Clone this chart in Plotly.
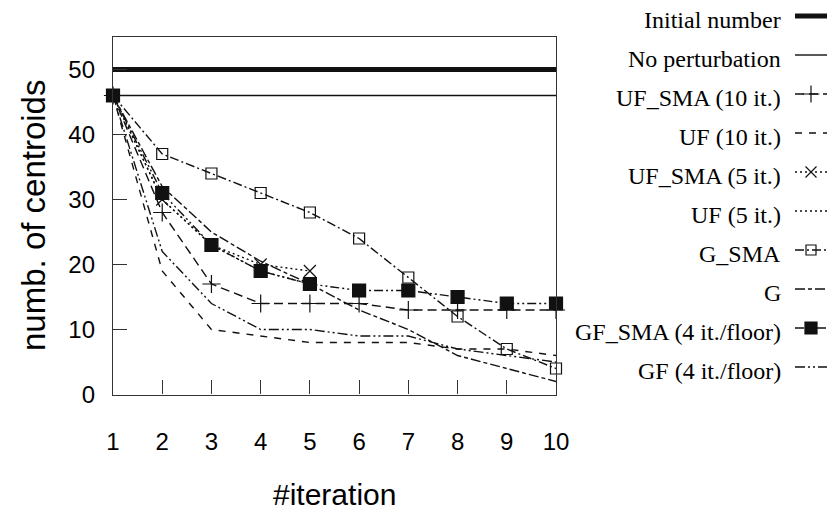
import plotly.graph_objects as go

# ---- data -------------------------------------------------------------
iterations = [1, 2, 3, 4, 5, 6, 7, 8, 9, 10]
x_tick_values = [1, 2, 3, 4, 5, 6, 7, 8, 9, 10]
y_tick_values = [0, 10, 20, 30, 40, 50]

initial_number = 50
no_perturbation = 46

uf_sma_10 = [46, 28, 17, 14, 14, 14, 13, 13, 13, 13]
uf_10 = [46, 19, 10, 9, 8, 8, 8, 7, 7, 6]
uf_sma_5 = [46, 30, 23, 20, 19]
uf_5 = [46, 30, 23, 19, 17]
g_sma = [46, 37, 34, 31, 28, 24, 18, 12, 7, 4]
g = [46, 32, 25, 20.5, 17, 13, 10, 6, 4, 2]
gf_sma = [46, 31, 23, 19, 17, 16, 16, 15, 14, 14]
gf = [46, 22, 14, 10, 10, 9, 9, 7, 6, 5]

series_names = [
    "Initial number", "No perturbation", "UF_SMA (10 it.)", "UF (10 it.)",
    "UF_SMA (5 it.)", "UF (5 it.)", "G_SMA", "G",
    "GF_SMA (4 it./floor)", "GF (4 it./floor)",
]

# ---- styles -----------------------------------------------------------
W, H = 834, 512
INK = "#111111"
LW = 1.4

styles = {
    "Initial number": dict(dash="solid", width=5, symbol=None, size=0),
    "No perturbation": dict(dash="solid", width=1.4, symbol=None, size=0),
    "UF_SMA (10 it.)": dict(dash="9px,5px", width=LW, symbol="cross-thin-open", size=13),
    "UF (10 it.)": dict(dash="7px,7px", width=LW, symbol=None, size=0),
    "UF_SMA (5 it.)": dict(dash="2px,3px", width=LW, symbol="x-thin-open", size=12),
    "UF (5 it.)": dict(dash="2px,3px", width=LW, symbol=None, size=0),
    "G_SMA": dict(dash="9px,3px,2px,3px", width=LW, symbol="square-open", size=11),
    "G": dict(dash="10px,3px,4px,3px", width=LW, symbol=None, size=0),
    "GF_SMA (4 it./floor)": dict(dash="9px,3px,2px,3px,2px,3px", width=LW, symbol="square", size=13),
    "GF (4 it./floor)": dict(dash="10px,3px,2px,3px,2px,3px", width=LW, symbol=None, size=0),
}

series_y = {
    "Initial number": [initial_number] * len(iterations),
    "No perturbation": [no_perturbation] * len(iterations),
    "UF_SMA (10 it.)": uf_sma_10,
    "UF (10 it.)": uf_10,
    "UF_SMA (5 it.)": uf_sma_5,
    "UF (5 it.)": uf_5,
    "G_SMA": g_sma,
    "G": g,
    "GF_SMA (4 it./floor)": gf_sma,
    "GF (4 it./floor)": gf,
}

# plot frame in pixels
PX_L, PX_R, PX_T, PX_B = 113, 556, 37, 394.5


def fx(px):
    return px / W


def fy(py):
    return 1 - py / H


fig = go.Figure()

# main chart: lines first, then marker series on top
draw_order = [
    "Initial number", "No perturbation", "UF (10 it.)", "UF (5 it.)", "G",
    "GF (4 it./floor)", "UF_SMA (5 it.)", "UF_SMA (10 it.)", "G_SMA",
    "GF_SMA (4 it./floor)",
]
for name in draw_order:
    st = styles[name]
    ys = series_y[name]
    xs = iterations[: len(ys)]
    mode = "lines+markers" if st["symbol"] else "lines"
    tr = dict(
        x=xs, y=ys, mode=mode, name=name, showlegend=False,
        line=dict(color=INK, width=st["width"], dash=st["dash"]),
        cliponaxis=False, xaxis="x", yaxis="y",
    )
    if st["symbol"]:
        tr["marker"] = dict(
            symbol=st["symbol"], size=st["size"], color=INK,
            line=dict(color=INK, width=1.2),
        )
    fig.add_trace(go.Scatter(**tr))

# legend: label text on the left, line sample on the right
ROW0, ROW_STEP = 16, 39
y2_top = -ROW0 / ROW_STEP
y2_bot = (H - ROW0) / ROW_STEP
annotations = []
for i, name in enumerate(series_names):
    st = styles[name]
    fig.add_trace(go.Scatter(
        x=[0, 1], y=[i, i], mode="lines", showlegend=False, hoverinfo="skip",
        line=dict(color=INK, width=st["width"], dash=st["dash"]),
        xaxis="x2", yaxis="y2", cliponaxis=False,
    ))
    if st["symbol"]:
        fig.add_trace(go.Scatter(
            x=[0.5], y=[i], mode="markers", showlegend=False, hoverinfo="skip",
            marker=dict(symbol=st["symbol"], size=st["size"] - 1, color=INK,
                        line=dict(color=INK, width=1.2)),
            xaxis="x2", yaxis="y2", cliponaxis=False,
        ))
    annotations.append(dict(
        x=fx(783), y=i, xref="paper", yref="y2", text=name, showarrow=False,
        xanchor="right", yanchor="middle", yshift=-4,
        font=dict(family="Liberation Serif", size=24, color="black"),
    ))

# axis titles
annotations.append(dict(
    x=fx(334), y=fy(494), xref="paper", yref="paper", text="#iteration",
    showarrow=False, xanchor="center", yanchor="middle",
    font=dict(family="Liberation Sans", size=30, color="black"),
))
annotations.append(dict(
    x=fx(33), y=fy(216), xref="paper", yref="paper", text="numb. of centroids",
    showarrow=False, xanchor="center", yanchor="middle", textangle=-90,
    font=dict(family="Liberation Sans", size=33, color="black"),
))

axis_common = dict(
    showgrid=False, zeroline=False, showline=True, mirror=True,
    linecolor="#333333", linewidth=1.3, ticks="inside", ticklen=14,
    tickwidth=1.2, tickcolor="#333333", automargin=False,
    tickfont=dict(family="Liberation Sans", size=24, color="black"),
)

fig.update_layout(
    template="none",
    width=W, height=H,
    margin=dict(l=0, r=0, t=0, b=0, pad=0, autoexpand=False),
    paper_bgcolor="white", plot_bgcolor="white",
    xaxis=dict(
        domain=[fx(PX_L), fx(PX_R)], range=[1, 10], tickmode="array",
        tickvals=x_tick_values, anchor="y", ticklabelstandoff=26,
        **axis_common,
    ),
    yaxis=dict(
        domain=[fy(PX_B), fy(PX_T)], range=[0, 55], tickmode="array",
        tickvals=y_tick_values, anchor="x", ticklabelstandoff=12,
        **axis_common,
    ),
    xaxis2=dict(domain=[fx(795), fx(827)], range=[0, 1], visible=False,
                anchor="y2", fixedrange=True, automargin=False),
    yaxis2=dict(domain=[0, 1], range=[y2_bot, y2_top], visible=False,
                anchor="x2", fixedrange=True, automargin=False),
    annotations=annotations,
    showlegend=False,
)

fig.write_html("out.html")
